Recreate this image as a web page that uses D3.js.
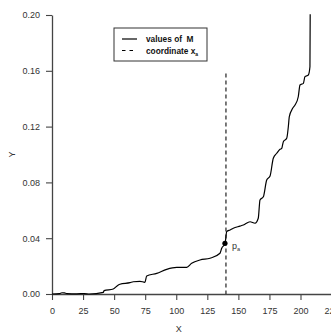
<!DOCTYPE html>
<html>
<head>
<meta charset="utf-8">
<script src="https://cdn.jsdelivr.net/npm/d3@7"></script>
<style>
  body { margin: 0; background: #fff; }
  svg { display: block; font-family: "Liberation Sans", Arial, sans-serif; }
</style>
</head>
<body>
<div id="chart"></div>
<script>
// Values of M (x, M)
var mX = [0, 6, 8, 10, 12, 20, 26, 30, 41.3, 41.9, 49.3, 53.4, 54.7, 62.8, 65.4, 70.8, 74.8, 76.2, 84.3, 92.3,
          100.4, 108.4, 112.4, 119.1, 127.2, 135.2, 136.6, 139.3, 140.6, 143.3, 145.9, 151.3, 154, 159.4,
          163.4, 166, 167.4, 170.1, 172.8, 175.5, 178.1, 180.9, 183.5, 184.9, 186.2, 188.9, 190.2, 191,
          193.7, 195.6, 198.2, 199.6, 202.3, 203.6, 206.3, 207.6, 207.8];
var mY = [0, 0.0003, 0.0009, 0.0008, 0.0003, 0.0001, 0.0003, 0, 0.0012, 0.0024, 0.0036, 0.0065, 0.007, 0.0081,
          0.0088, 0.0091, 0.0084, 0.0129, 0.0148, 0.0177, 0.0191, 0.0191, 0.022, 0.0244, 0.0256, 0.0292,
          0.0328, 0.0363, 0.0447, 0.0459, 0.0471, 0.0487, 0.0495, 0.0518, 0.0507, 0.0543, 0.0674, 0.0697,
          0.0817, 0.0846, 0.0973, 0.1009, 0.1037, 0.1044, 0.1092, 0.1116, 0.1199, 0.1271, 0.1331, 0.1355,
          0.1414, 0.1498, 0.151, 0.1558, 0.157, 0.1629, 0.2005];

var xTicks = [0, 25, 50, 75, 100, 125, 150, 175, 200, 225];
var yTicks = [0, 0.04, 0.08, 0.12, 0.16, 0.20];

var xa = 140;        // coordinate x_a
var xaTop = 0.158;   // top of the dashed line
var pa = 0.0363;     // value at p_a

var width = 331, height = 333;
var margin = {left: 52, top: 15, bottom: 39};

var svg = d3.select("#chart").append("svg")
  .attr("width", width)
  .attr("height", height);

// the x axis runs past the right edge of the picture (225 is half cut off)
var x = d3.scaleLinear().domain([0, 250]).range([margin.left, margin.left + 250 * 1.2425]);
var y = d3.scaleLinear().domain([0, 0.2]).range([height - margin.bottom, margin.top]);

// axes
var xAxis = svg.append("g")
  .attr("transform", "translate(0," + y(0) + ")")
  .call(d3.axisBottom(x).tickValues(xTicks).tickSize(6).tickSizeOuter(0).tickPadding(8));
var yAxis = svg.append("g")
  .attr("transform", "translate(" + x(0) + ",0)")
  .call(d3.axisLeft(y).tickValues(yTicks).tickFormat(d3.format(".2f")).tickSize(6).tickSizeOuter(0).tickPadding(6));

[xAxis, yAxis].forEach(function(a) {
  a.select(".domain").attr("stroke", "#444").attr("stroke-width", 1.3);
  a.selectAll(".tick line").attr("stroke", "#444").attr("stroke-width", 1.1);
  a.selectAll(".tick text").attr("fill", "#333").style("font-size", "9px");
});

// axis titles
svg.append("text")
  .attr("x", x(102)).attr("y", 332)
  .attr("text-anchor", "middle")
  .style("font-size", "9px").attr("fill", "#333")
  .text("X");
svg.append("text")
  .attr("transform", "translate(15," + y(0.1) + ") rotate(-90)")
  .attr("text-anchor", "middle")
  .style("font-size", "9px").attr("fill", "#333")
  .text("Y");

// dashed line at x_a
svg.append("line")
  .attr("x1", x(xa)).attr("x2", x(xa))
  .attr("y1", y(xaTop)).attr("y2", y(0))
  .attr("stroke", "#333").attr("stroke-width", 1.3)
  .attr("stroke-dasharray", "4,3");

// values of M
var data = mX.map(function(d, i) { return [d, mY[i]]; });
var line = d3.line()
  .x(function(d) { return x(d[0]); })
  .y(function(d) { return y(d[1]); })
  .curve(d3.curveMonotoneX);

svg.append("path")
  .datum(data)
  .attr("d", line)
  .attr("fill", "none")
  .attr("stroke", "#000")
  .attr("stroke-width", 1.2);

// point p_a
svg.append("circle")
  .attr("cx", x(xa) - 1).attr("cy", y(pa))
  .attr("r", 2.6)
  .attr("fill", "#000");
var pl = svg.append("text")
  .attr("x", x(xa) + 6).attr("y", y(pa) + 6)
  .style("font-size", "9px").attr("fill", "#333");
pl.append("tspan").text("p");
pl.append("tspan").attr("dy", 2).style("font-size", "5.5px").text("a");

// legend
var lg = svg.append("g").attr("transform", "translate(114,28)");
lg.append("rect")
  .attr("width", 93).attr("height", 33)
  .attr("fill", "#fff").attr("stroke", "#333").attr("stroke-width", 1);
lg.append("line")
  .attr("x1", 8).attr("x2", 23).attr("y1", 11).attr("y2", 11)
  .attr("stroke", "#000").attr("stroke-width", 1.2);
lg.append("line")
  .attr("x1", 8).attr("x2", 23).attr("y1", 22.5).attr("y2", 22.5)
  .attr("stroke", "#000").attr("stroke-width", 1.2)
  .attr("stroke-dasharray", "3.5,4");
lg.append("text")
  .attr("x", 32).attr("y", 14)
  .style("font-size", "8.3px").style("font-weight", "bold").attr("fill", "#111")
  .attr("xml:space", "preserve")
  .text("values of  M");
var lt = lg.append("text")
  .attr("x", 32).attr("y", 25.5)
  .style("font-size", "8.3px").style("font-weight", "bold").attr("fill", "#111");
lt.append("tspan").text("coordinate x");
lt.append("tspan").attr("dy", 2).style("font-size", "5px").text("a");
</script>
</body>
</html>
